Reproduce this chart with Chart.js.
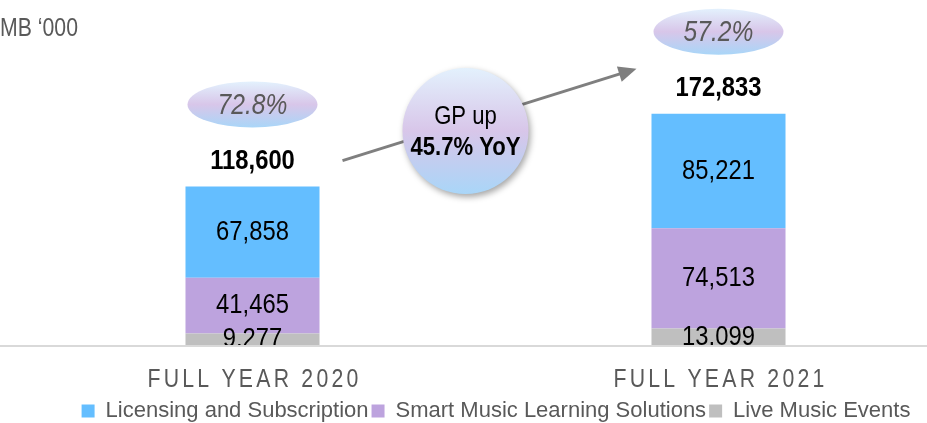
<!DOCTYPE html>
<html>
<head>
<meta charset="utf-8">
<script src="https://cdn.jsdelivr.net/npm/chart.js@4.4.0/dist/chart.umd.min.js"></script>
<style>
  html, body { margin: 0; padding: 0; background: #fff; }
  #wrap { width: 927px; height: 423px; }
</style>
</head>
<body>
<div id="wrap"><canvas id="gpChart"></canvas></div>
<script>
const categories = ['FULL YEAR 2020', 'FULL YEAR 2021'];
const licensing = [67858, 85221];
const smartLearning = [41465, 74513];
const liveEvents = [9277, 13099];
const totals = [118600, 172833];
const margins = ['72.8%', '57.2%'];
const gpGrowth = ['GP up', '45.7% YoY'];
const unitLabel = 'MB ‘000';

const FONT = '"Liberation Sans", Arial, sans-serif';
const GREY_TEXT = '#595959';
const NARROW = 0.85; // slide used a narrow face, squeeze the canvas text a bit

Chart.defaults.font.family = FONT;

function fmt(v) {
    return v.toLocaleString('en-US');
}

function toPoints(values) {
    return values.map((v, i) => ({ x: i, y: v }));
}

function squeezedText(ctx, text, x, y, font) {
    ctx.save();
    ctx.font = font;
    ctx.translate(x, y);
    ctx.scale(NARROW, 1);
    ctx.fillText(text, 0, 0);
    ctx.restore();
}

// pale blue -> lavender -> blue, like the bubbles on the slide
function bubbleFill(ctx, top, bottom) {
    const g = ctx.createLinearGradient(0, top, 0, bottom);
    g.addColorStop(0, '#e3f1fd');
    g.addColorStop(0.5, '#d8c6e9');
    g.addColorStop(1, '#a9d6f8');
    return g;
}

// push the legend row a little lower, as on the slide
const legendNudge = {
    id: 'legendNudge',
    afterLayout(chart) {
        if (chart.legend) {
            chart.legend.top += 9;
            chart.legend.bottom += 9;
        }
    }
};

const slideExtras = {
    id: 'slideExtras',
    afterDatasetsDraw(chart) {
        const ctx = chart.ctx;
        const area = chart.chartArea;
        const yScale = chart.scales.y;
        const xScale = chart.scales.x;
        const topBars = chart.getDatasetMeta(2).data;
        const baseY = yScale.getPixelForValue(0);

        // segment values, clipped at the axis like the original
        ctx.save();
        ctx.beginPath();
        ctx.rect(0, area.top, chart.width, baseY - area.top);
        ctx.clip();
        ctx.fillStyle = '#000';
        ctx.textAlign = 'center';
        ctx.textBaseline = 'middle';
        chart.data.datasets.forEach((ds, i) => {
            chart.getDatasetMeta(i).data.forEach((bar, j) => {
                squeezedText(ctx, fmt(ds.data[j].y), bar.x, (bar.y + bar.base) / 2, '28px ' + FONT);
            });
        });
        ctx.restore();

        // axis line across the whole slide
        ctx.save();
        ctx.strokeStyle = '#d9d9d9';
        ctx.lineWidth = 2;
        ctx.beginPath();
        ctx.moveTo(0, baseY);
        ctx.lineTo(chart.width, baseY);
        ctx.stroke();
        ctx.restore();

        // totals and margin bubbles
        ctx.save();
        ctx.textAlign = 'center';
        ctx.textBaseline = 'middle';
        topBars.forEach((bar, j) => {
            ctx.fillStyle = '#000';
            squeezedText(ctx, fmt(totals[j]), bar.x, bar.y - 25, 'bold 28px ' + FONT);

            const cy = bar.y - 82;
            ctx.beginPath();
            ctx.ellipse(bar.x, cy, 65, 23, 0, 0, Math.PI * 2);
            ctx.fillStyle = bubbleFill(ctx, cy - 23, cy + 23);
            ctx.fill();
            ctx.fillStyle = GREY_TEXT;
            squeezedText(ctx, margins[j], bar.x, cy + 1, 'italic 29px ' + FONT);
        });
        ctx.restore();

        // growth arrow
        const b0 = topBars[0], b1 = topBars[1];
        const x0 = b0.x + b0.width / 2 + 23, y0 = b0.y - 26;
        const x1 = b1.x - b1.width / 2 - 15, y1 = b1.y - 45;
        const ang = Math.atan2(y1 - y0, x1 - x0);
        ctx.save();
        ctx.strokeStyle = '#7f7f7f';
        ctx.fillStyle = '#7f7f7f';
        ctx.lineWidth = 3;
        ctx.beginPath();
        ctx.moveTo(x0, y0);
        ctx.lineTo(x1 - 14 * Math.cos(ang), y1 - 14 * Math.sin(ang));
        ctx.stroke();
        ctx.translate(x1, y1);
        ctx.rotate(ang);
        ctx.beginPath();
        ctx.moveTo(0, 0);
        ctx.lineTo(-18, -8);
        ctx.lineTo(-18, 8);
        ctx.closePath();
        ctx.fill();
        ctx.restore();

        // GP growth circle
        const cx = (b0.x + b1.x) / 2 - 20;
        const cy = yScale.getPixelForValue(160000);
        const r = 63;
        ctx.save();
        ctx.shadowColor = 'rgba(0,0,0,0.35)';
        ctx.shadowBlur = 6;
        ctx.shadowOffsetX = 2;
        ctx.shadowOffsetY = 3;
        ctx.beginPath();
        ctx.arc(cx, cy, r, 0, Math.PI * 2);
        ctx.fillStyle = bubbleFill(ctx, cy - r, cy + r);
        ctx.fill();
        ctx.restore();
        ctx.save();
        ctx.textAlign = 'center';
        ctx.textBaseline = 'middle';
        ctx.fillStyle = '#000';
        squeezedText(ctx, gpGrowth[0], cx, cy - 14, '26px ' + FONT);
        squeezedText(ctx, gpGrowth[1], cx, cy + 17, 'bold 26px ' + FONT);
        ctx.restore();

        // unit label
        ctx.save();
        ctx.fillStyle = GREY_TEXT;
        ctx.textAlign = 'left';
        ctx.textBaseline = 'middle';
        squeezedText(ctx, unitLabel, 0, 29, '25px ' + FONT);
        ctx.restore();

        // spaced category labels
        ctx.save();
        ctx.fillStyle = GREY_TEXT;
        ctx.textAlign = 'center';
        ctx.textBaseline = 'middle';
        ctx.letterSpacing = '3.8px';
        categories.forEach((c, j) => {
            squeezedText(ctx, c, xScale.getPixelForValue(j) + 2, baseY + 34, '25px ' + FONT);
        });
        ctx.restore();
    }
};

new Chart(document.getElementById('gpChart'), {
    type: 'bar',
    data: {
        datasets: [{
            label: 'Live Music Events',
            data: toPoints(liveEvents),
            backgroundColor: '#bfbfbf'
        }, {
            label: 'Smart Music Learning Solutions',
            data: toPoints(smartLearning),
            backgroundColor: '#bda3de'
        }, {
            label: 'Licensing and Subscription',
            data: toPoints(licensing),
            backgroundColor: '#64beff'
        }]
    },
    options: {
        responsive: true,
        maintainAspectRatio: false,
        animation: false,
        datasets: {
            bar: {
                categoryPercentage: 1,
                barPercentage: 0.2876
            }
        },
        layout: {
            padding: { top: 10, left: 65, right: 0, bottom: 0 }
        },
        plugins: {
            legend: {
                position: 'bottom',
                reverse: true,
                labels: {
                    color: GREY_TEXT,
                    boxWidth: 13,
                    boxHeight: 13,
                    padding: 3,
                    font: { size: 22 }
                }
            },
            tooltip: { enabled: false }
        },
        scales: {
            x: {
                type: 'linear',
                stacked: true,
                offset: false,
                min: -(252.5 - 65) / 466,
                max: -(252.5 - 65) / 466 + (927 - 65) / 466,
                grid: { display: false, drawTicks: false },
                border: { display: false },
                ticks: {
                    stepSize: 1,
                    includeBounds: false,
                    color: 'rgba(0,0,0,0)',
                    font: { size: 25 },
                    padding: 6
                }
            },
            y: {
                stacked: true,
                display: false,
                min: 0,
                max: 250000
            }
        }
    },
    plugins: [slideExtras, legendNudge]
});
</script>
</body>
</html>
